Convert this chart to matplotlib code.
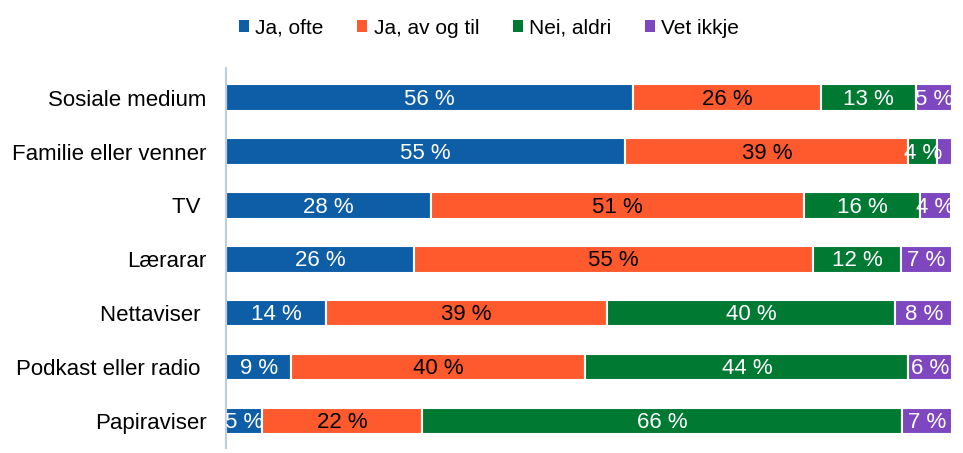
import numpy as np
import matplotlib.pyplot as plt

plt.rcParams['font.family'] = ['Liberation Sans', 'DejaVu Sans']

# kjelder (ovanfrå og ned)
kjelder = ['Sosiale medium', 'Familie eller venner', 'TV ', 'Lærarar',
           'Nettaviser ', 'Podkast eller radio ', 'Papiraviser']
serier = ['Ja, ofte', 'Ja, av og til', 'Nei, aldri', 'Vet ikkje']

ja_ofte = [56, 55, 28.2, 25.9, 13.8, 9.0, 5.0]
ja_av_og_til = [26, 39, 51.4, 55.0, 38.7, 40.5, 22.0]
nei_aldri = [13, 4, 16.0, 12.1, 39.7, 44.5, 66.1]
vet_ikkje = [5, 2, 4.2, 7.0, 7.8, 6.0, 6.9]

fargar = ['#0E5EA7', '#FF5A2E', '#007A33', '#7E47C0']
tekstfarge = ['white', 'black', 'white', 'white']

verdiar = [ja_ofte, ja_av_og_til, nei_aldri, vet_ikkje]

fig = plt.figure(figsize=(9.63, 4.53), dpi=100)
ax = fig.add_axes([226 / 963, 5 / 453, 726 / 963, 380 / 453])

y = np.arange(len(kjelder))
venstre = np.zeros(len(kjelder))
for namn, v, farge, tf in zip(serier, verdiar, fargar, tekstfarge):
    v = np.array(v)
    ax.barh(y, v, left=venstre, height=0.49, color=farge,
            edgecolor='white', linewidth=1.5)
    ax.barh(y, 0, color=farge, label=namn)  # berre for forklaringa
    for i in range(len(v)):
        if v[i] < 3:
            continue
        ax.text(venstre[i] + v[i] / 2, y[i] + 0.03, f'{v[i]:.0f} %',
                ha='center', va='center', color=tf, fontsize=16)
    venstre += v

ax.set_xlim(0, venstre.max())
ax.set_ylim(len(kjelder) - 0.5, -0.55)
ax.set_yticks(y)
ax.set_yticklabels(kjelder, fontsize=16)
ax.tick_params(axis='y', length=0, pad=14)
ax.set_xticks([])
for s in ['top', 'right', 'bottom']:
    ax.spines[s].set_visible(False)
ax.spines['left'].set_color('#BFCDE0')
ax.spines['left'].set_linewidth(1.5)

ax.legend(loc='center', bbox_to_anchor=(489 / 963, 1 - 28 / 453),
          bbox_transform=fig.transFigure, ncol=4, frameon=False,
          fontsize=15, handlelength=0.5, handleheight=0.5,
          handletextpad=0.3, columnspacing=1.6)

fig.savefig('out.png', dpi=100)
